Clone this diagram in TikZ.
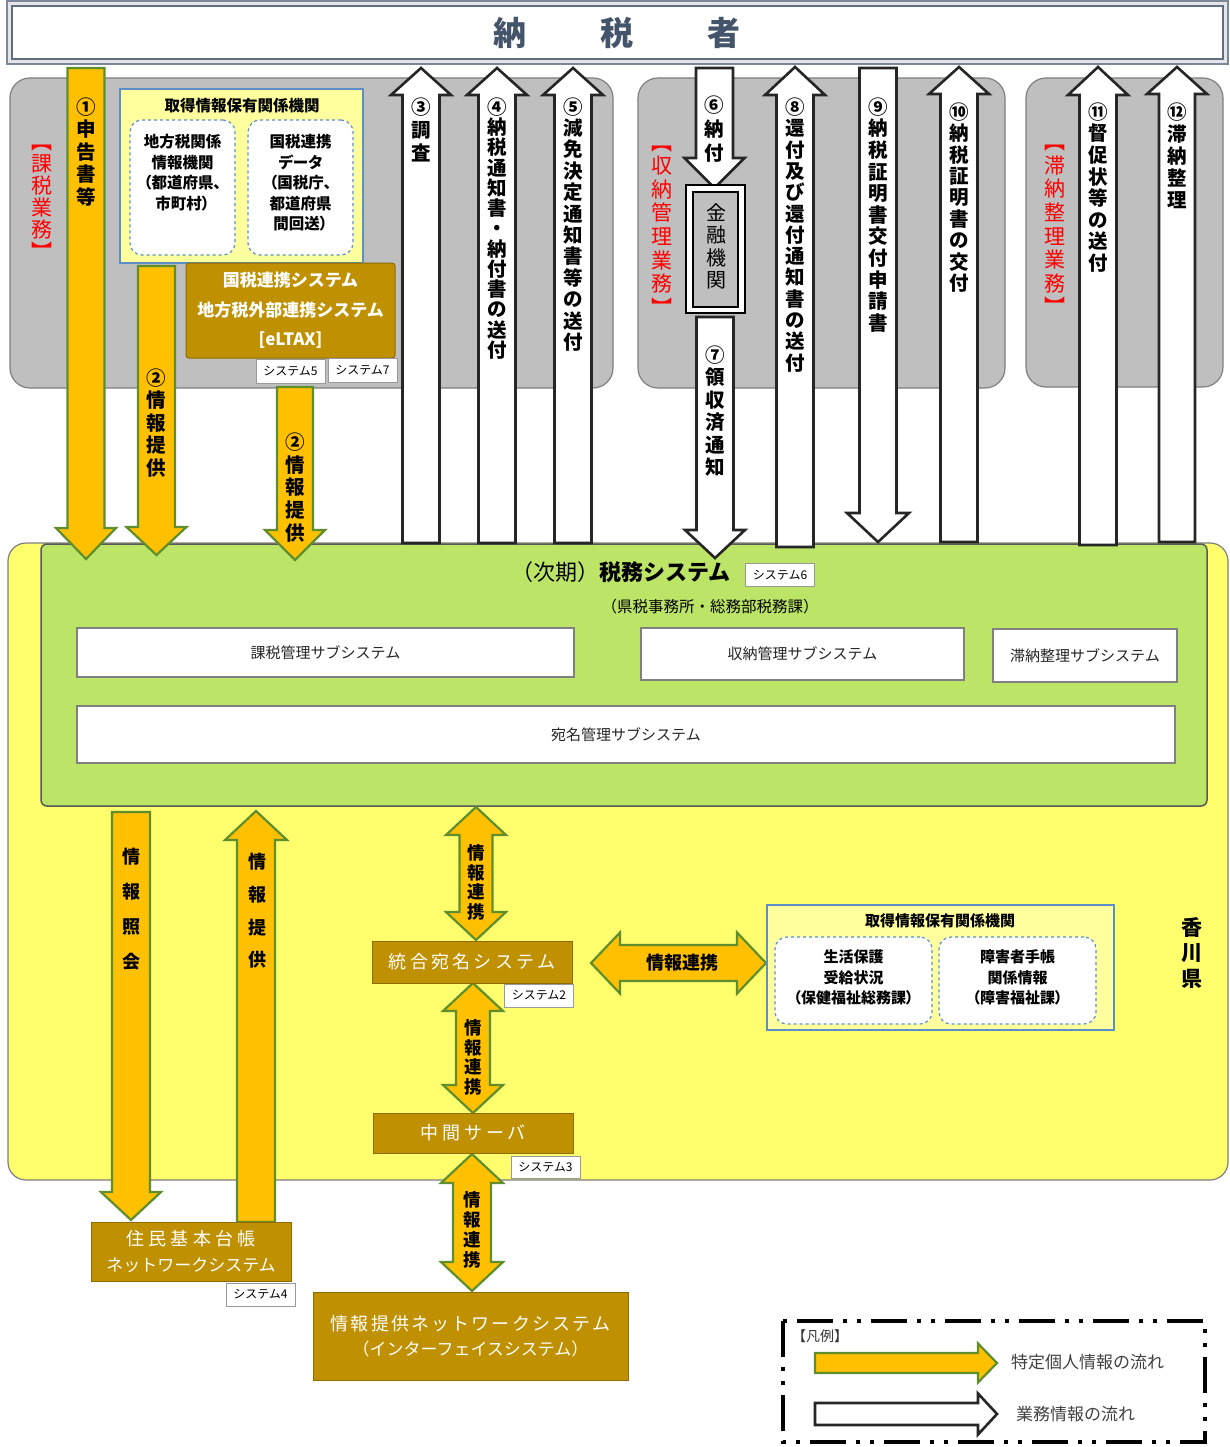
\documentclass[tikz,border=0pt]{standalone}
\usepackage{fontspec}
\setmainfont{Noto Sans CJK JP}
\definecolor{grayP}{HTML}{BFBFBF}
\definecolor{grayB}{HTML}{7F7F7F}
\definecolor{yelA}{HTML}{FFFF6E}
\definecolor{grnA}{HTML}{BCE466}
\definecolor{lyel}{HTML}{FFFF9E}
\definecolor{blueB}{HTML}{5B8FC9}
\definecolor{brownA}{HTML}{BF9000}
\definecolor{orgA}{HTML}{FFC000}
\definecolor{ogrA}{HTML}{5E8E2E}
\definecolor{navyA}{HTML}{44546A}
\newcommand{\fsz}[2]{\fontsize{#1}{#2}\selectfont}
% down arrow: style, cx, ytop, ytip, half shaft, half head, head length
\newcommand{\ArrDn}[7]{\draw[#1] ({#2-#5},#3) -- ({#2+#5},#3) -- ({#2+#5},{#4-#7}) -- ({#2+#6},{#4-#7}) -- (#2,#4) -- ({#2-#6},{#4-#7}) -- ({#2-#5},{#4-#7}) -- cycle;}
% up arrow: style, cx, ytip, ybot, hs, hh, hl
\newcommand{\ArrUpw}[7]{\draw[#1] (#2,#3) -- ({#2+#6},{#3+#7}) -- ({#2+#5},{#3+#7}) -- ({#2+#5},#4) -- ({#2-#5},#4) -- ({#2-#5},{#3+#7}) -- ({#2-#6},{#3+#7}) -- cycle;}
% up-down arrow
\newcommand{\ArrUD}[7]{\draw[#1] (#2,#3) -- ({#2+#6},{#3+#7}) -- ({#2+#5},{#3+#7}) -- ({#2+#5},{#4-#7}) -- ({#2+#6},{#4-#7}) -- (#2,#4) -- ({#2-#6},{#4-#7}) -- ({#2-#5},{#4-#7}) -- ({#2-#5},{#3+#7}) -- ({#2-#6},{#3+#7}) -- cycle;}
% left-right arrow: style, xl, xr, cy, hs, hh, hl
\newcommand{\ArrLR}[7]{\draw[#1] (#2,#4) -- ({#2+#7},{#4-#6}) -- ({#2+#7},{#4-#5}) -- ({#3-#7},{#4-#5}) -- ({#3-#7},{#4-#6}) -- (#3,#4) -- ({#3-#7},{#4+#6}) -- ({#3-#7},{#4+#5}) -- ({#2+#7},{#4+#5}) -- ({#2+#7},{#4+#6}) -- cycle;}
% right arrow: style, x0, xtip, cy, hs, hh, hl
\newcommand{\ArrRt}[7]{\draw[#1] (#2,{#4-#5}) -- ({#3-#7},{#4-#5}) -- ({#3-#7},{#4-#6}) -- (#3,#4) -- ({#3-#7},{#4+#6}) -- ({#3-#7},{#4+#5}) -- (#2,{#4+#5}) -- cycle;}
\begin{document}
\begin{tikzpicture}[x=1pt,y=-1pt,line join=miter,
 oarrow/.style={fill=orgA,draw=ogrA,line width=2.2pt},
 warrow/.style={fill=white,draw=black!85,line width=2.6pt},
 grayp/.style={fill=grayP,draw=grayB,line width=1.2pt,rounded corners=20pt},
 vlab/.style={align=center,inner sep=0pt,font=\bfseries\fsz{19.5}{#1}},
 blab/.style={align=center,inner sep=0pt,font=\bfseries\fsz{18}{#1}},
 rlab/.style={align=center,inner sep=0pt,text=red,font=\fsz{21}{#1}},
 infobox/.style={fill=lyel,draw=blueB,line width=1.2pt,inner sep=0pt},
 dashbox/.style={fill=white,draw=blueB,line width=1.2pt,dashed,rounded corners=12pt,inner sep=0pt},
 brownbox/.style={fill=brownA,draw=brownA!75!black,line width=1pt,text=white,inner sep=0pt,align=center},
 tagbox/.style={fill=white,draw=black!40,line width=0.8pt,inner sep=0pt,minimum width=69pt,minimum height=23pt,font=\fsz{12}{12}},
 subbox/.style={fill=white,draw=black!50,line width=1.8pt,inner sep=0pt,font=\fsz{15}{15},text=black!85},
 ]
\useasboundingbox (0,0) rectangle (1229,1447);
% taxpayer
\draw[draw=navyA!70,line width=1.2pt,fill=navyA!15] (7,1) rectangle (1228,64);
\draw[draw=navyA!85,line width=1.2pt,fill=white] (12,6) rectangle (1223,59);
\node[font=\bfseries\fsz{33}{33},text=navyA] (tax) at (617,33) {納\hspace{74pt}税\hspace{74pt}者};
% gray panels
\draw[grayp] (10,78) rectangle (613,388);
\draw[grayp] (638,78) rectangle (1005,388);
\draw[grayp] (1026,78) rectangle (1223,387);
\node[rlab=22] (r1) at (42,202) {︻\\課\\税\\業\\務\\︼};
\node[rlab=23.6] (r2) at (662,230.5) {︻\\収\\納\\管\\理\\業\\務\\︼};
\node[rlab=23.6] (r3) at (1055,230) {︻\\滞\\納\\整\\理\\業\\務\\︼};
% big yellow & green
\draw[fill=yelA,draw=grayB,line width=1.2pt,rounded corners=18pt] (8,543) rectangle (1228,1180);
\draw[fill=grnA,draw=black!65,line width=1.5pt,rounded corners=6pt] (41,544) rectangle (1207,806);
\node[font=\fsz{22}{22}] (sys) at (621,572) {（次期）\textbf{税務システム}};
\node[tagbox] (t6) at (780,575) {システム6};
\node[font=\fsz{15.5}{16}] (sub) at (710,607) {（県税事務所・総務部税務課）};
\node[subbox,minimum width=497pt,minimum height=49pt] (kazei) at (325.5,652.5) {課税管理サブシステム};
\node[subbox,minimum width=323pt,minimum height=52pt] (shuno) at (802.5,654) {収納管理サブシステム};
\node[subbox,minimum width=184pt,minimum height=53pt] (tainou) at (1085,655.5) {滞納整理サブシステム};
\node[subbox,minimum width=1098pt,minimum height=57pt] (atena) at (626,734.5) {宛名管理サブシステム};
\node[font=\bfseries\fsz{21}{25.5},align=center,inner sep=0pt] (kagawa) at (1192,952.5) {香\\川\\県};
% top arrows
\ArrDn{oarrow}{86}{68}{559}{18.5}{30}{31}
\ArrDn{oarrow}{156.5}{266}{555}{18.5}{30}{28}
\ArrDn{oarrow}{295}{387}{560}{18}{30}{30}
\ArrUpw{warrow}{421}{68}{543}{18.5}{30}{27}
\ArrUpw{warrow}{497}{68}{543}{18.5}{30}{27}
\ArrUpw{warrow}{573}{68}{543}{18.5}{30}{27}
\ArrDn{warrow}{714.5}{68}{188}{18.5}{30}{30}
\ArrDn{warrow}{715}{317}{558}{18.5}{30}{28}
\ArrUpw{warrow}{795}{67}{547}{18.5}{30}{28}
\ArrDn{warrow}{878}{68}{542}{18.5}{31}{29}
\ArrUpw{warrow}{959}{67}{542}{18.5}{30}{27}
\ArrUpw{warrow}{1098}{67}{545}{18.5}{30}{28}
\ArrUpw{warrow}{1177}{67}{542}{18}{30}{27}
% info box 1
\node[infobox,minimum width=243pt,minimum height=174pt] (info1) at (241.5,176) {};
\node[font=\bfseries\fsz{15.5}{16}] (info1t) at (242,106) {取得情報保有関係機関};
\node[dashbox,minimum width=105pt,minimum height=135pt] (d1) at (182.5,187.5) {};
\node[dashbox,minimum width=105pt,minimum height=135pt] (d2) at (300.5,187.5) {};
\node[align=center,inner sep=0pt,font=\bfseries\fsz{15.5}{20.5}\addfontfeature{RawFeature=+palt}] (d1t) at (182.5,172.5) {地方税関係\\情報機関\\（都道府県、\\市町村）};
\node[align=center,inner sep=0pt,font=\bfseries\fsz{15.5}{20.5}\addfontfeature{RawFeature=+palt}] (d2t) at (300.5,183) {国税連携\\データ\\（国税庁、\\都道府県\\間回送）};
% eLTAX
\node[brownbox,rounded corners=3pt,minimum width=209pt,minimum height=95pt,font=\bfseries\fsz{17}{29.5}] (eltax) at (290.5,310.5) {国税連携システム\\地方税外部連携システム\\{[eLTAX]}};
\node[tagbox,minimum height=24pt] (t5) at (290.5,371) {システム5};
\node[tagbox,minimum height=24pt] (t7) at (362.5,370) {システム7};
% financial institution
\node[draw=black,line width=1.8pt,fill=white,minimum width=59pt,minimum height=128pt,inner sep=0pt] (kin) at (715.5,249) {};
\node[draw=black,line width=1.8pt,fill=grayP,minimum width=45pt,minimum height=115pt,inner sep=0pt] (kinin) at (715.5,249.5) {};
\node[align=center,inner sep=0pt,font=\fsz{20}{22.3}] (kint) at (716,246.5) {金\\融\\機\\関};
% top labels
\node[vlab=22.5] (l1) at (86,152) {①\\申\\告\\書\\等};
\node[vlab=22.5] (l2a) at (156.5,423) {②\\情\\報\\提\\供};
\node[vlab=22.75] (l2b) at (295,487.5) {②\\情\\報\\提\\供};
\node[vlab=23] (l3) at (421,130) {③\\調\\査};
\node[vlab=20.25] (l4) at (497,228.5) {④\\納\\税\\通\\知\\書\\・\\納\\付\\書\\の\\送\\付};
\node[vlab=21.4] (l5) at (573,224.5) {⑤\\減\\免\\決\\定\\通\\知\\書\\等\\の\\送\\付};
\node[vlab=24] (l6) at (714.5,129) {⑥\\納\\付};
\node[vlab=22.4] (l7) at (715,411) {⑦\\領\\収\\済\\通\\知};
\node[vlab=21.3] (l8) at (795,235) {⑧\\還\\付\\及\\び\\還\\付\\通\\知\\書\\の\\送\\付};
\node[vlab=21.6] (l9) at (878,215) {⑨\\納\\税\\証\\明\\書\\交\\付\\申\\請\\書};
\node[vlab=21.4] (l10) at (959,197.5) {⑩\\納\\税\\証\\明\\書\\の\\交\\付};
\node[vlab=21.6] (l11) at (1098,187.5) {⑪\\督\\促\\状\\等\\の\\送\\付};
\node[vlab=22] (l12) at (1177,156) {⑫\\滞\\納\\整\\理};
% lower arrows
\ArrDn{oarrow}{131}{812}{1220}{19}{30}{28}
\ArrUpw{oarrow}{256}{811}{1222}{19}{31}{29}
\ArrUD{oarrow}{476}{807}{940}{16.5}{30}{28}
\ArrUD{oarrow}{473}{983}{1113}{17}{30}{28}
\ArrUD{oarrow}{472}{1154}{1291}{19}{31}{29}
\ArrLR{oarrow}{591}{766}{963}{18}{30.5}{29}
\node[blab=35] (q1) at (131,909.5) {情\\報\\照\\会};
\node[blab=32.7] (q2) at (257,911) {情\\報\\提\\供};
\node[blab=19.7,font=\bfseries\fsz{17.5}{19.7}] (q3) at (476,882.5) {情\\報\\連\\携};
\node[blab=19.7,font=\bfseries\fsz{17.5}{19.7}] (q4) at (473,1057.5) {情\\報\\連\\携};
\node[blab=20,font=\bfseries\fsz{17.5}{20}] (q5) at (472,1230) {情\\報\\連\\携};
\node[font=\bfseries\fsz{18}{18},inner sep=0pt] (q6) at (682,963) {情報連携};
% lower boxes
\node[brownbox,minimum width=200pt,minimum height=42pt,font=\fsz{18}{18}] (togo) at (472,962) {\addfontfeature{LetterSpace=18}統合宛名システム};
\node[tagbox] (t2) at (539,995.5) {システム2};
\node[brownbox,minimum width=200pt,minimum height=40pt,font=\fsz{18}{18}] (chukan) at (473,1133) {\addfontfeature{LetterSpace=22}中間サーバ};
\node[tagbox,minimum height=22pt] (t3) at (545.5,1167) {システム3};
\node[brownbox,minimum width=200pt,minimum height=59pt,font=\fsz{18}{26}] (juki) at (191,1251.5) {{\addfontfeature{LetterSpace=24}住民基本台帳}\\{\fsz{17}{26}ネットワークシステム}};
\node[tagbox] (t4) at (260.5,1294.5) {システム4};
\node[brownbox,minimum width=315pt,minimum height=88pt,font=\fsz{18}{25}] (ipn) at (470.5,1336) {{\addfontfeature{LetterSpace=12}情報提供ネットワークシステム}\\{\fsz{17}{25}（インターフェイスシステム）}};
% info box 2
\node[infobox,minimum width=347pt,minimum height=125pt] (info2) at (940.5,967.5) {};
\node[font=\bfseries\fsz{15}{16}] (info2t) at (940,921) {取得情報保有関係機関};
\node[dashbox,minimum width=157pt,minimum height=87pt] (d3) at (853.5,980.5) {};
\node[dashbox,minimum width=157pt,minimum height=87pt] (d4) at (1017.5,980.5) {};
\node[align=center,inner sep=0pt,font=\bfseries\fsz{15}{20.5}\addfontfeature{RawFeature=+palt}] (d3t) at (853.5,977.5) {生活保護\\受給状況\\（保健福祉総務課）};
\node[align=center,inner sep=0pt,font=\bfseries\fsz{15}{20.5}\addfontfeature{RawFeature=+palt}] (d4t) at (1017.5,977.5) {障害者手帳\\関係情報\\（障害福祉課）};
% legend
\draw[line width=3.5pt,dash pattern=on 36pt off 10pt on 4pt off 10pt on 4pt off 10pt] (783,1321) rectangle (1205,1442);
\node[font=\fsz{14}{14},text=black!80,anchor=west,inner sep=0pt] (lg) at (792,1336) {【凡例】};
\ArrRt{oarrow}{815}{997}{1363}{10}{19.5}{19}
\ArrRt{warrow}{815}{997}{1414}{11}{20.5}{19}
\node[font=\fsz{17}{17},text=black!75,anchor=west,inner sep=0pt] (lg1) at (1011,1362) {特定個人情報の流れ};
\node[font=\fsz{17}{17},text=black!75,anchor=west,inner sep=0pt] (lg2) at (1016,1414) {業務情報の流れ};
\end{tikzpicture}
\end{document}
